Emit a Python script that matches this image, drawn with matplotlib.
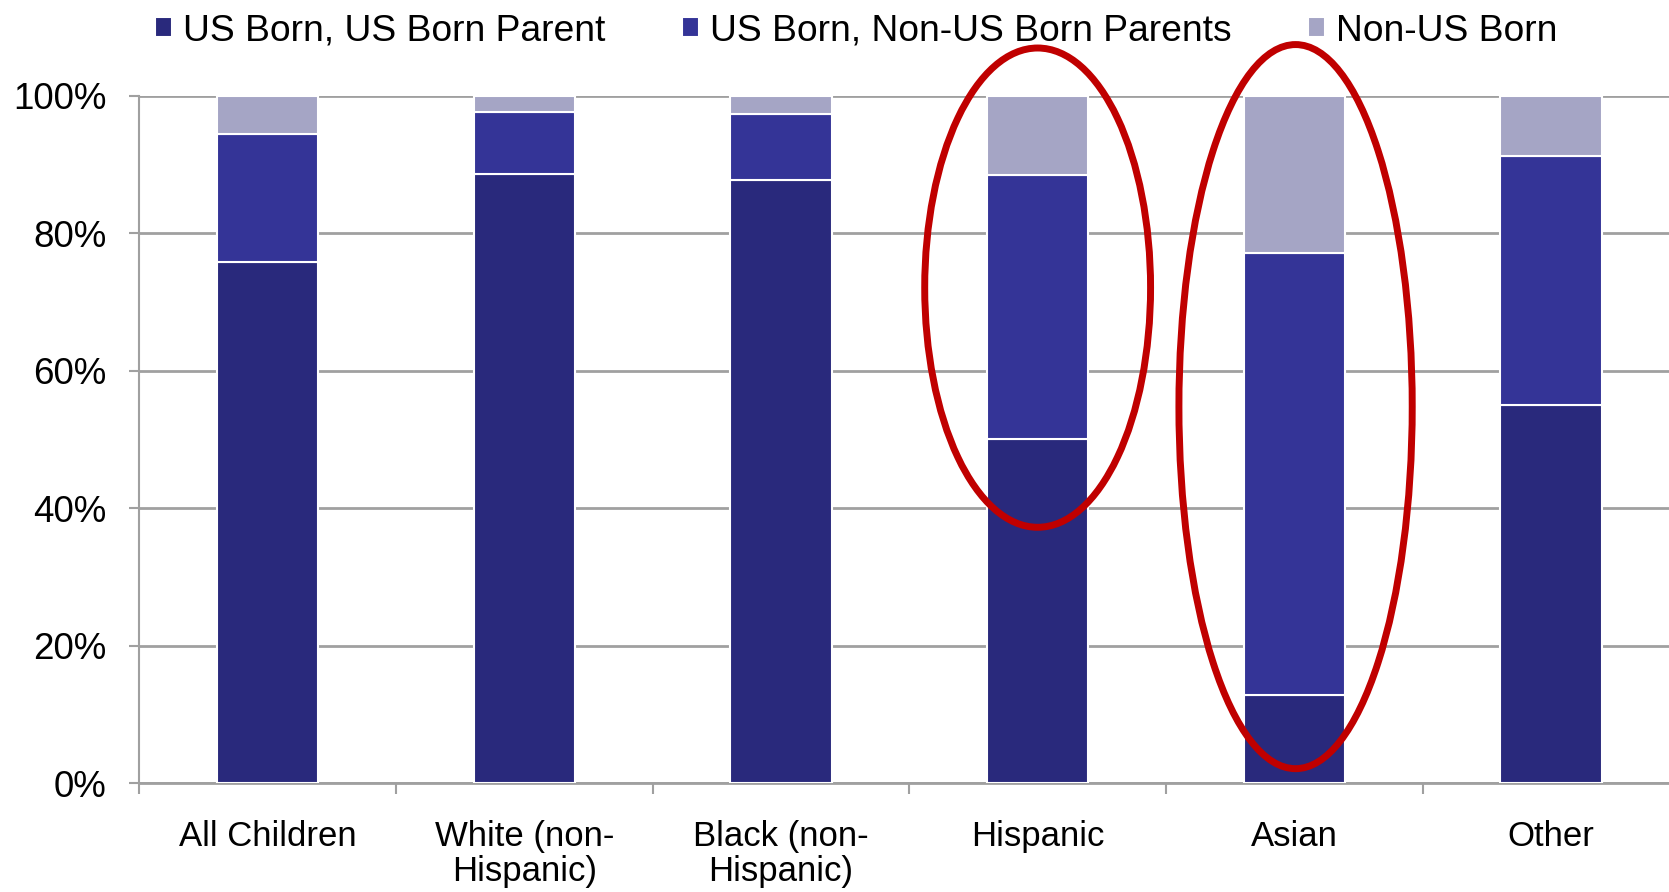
import numpy as np
import matplotlib.pyplot as plt
from matplotlib.patches import Ellipse

plt.rcParams['font.family'] = ['Liberation Sans', 'DejaVu Sans']

# data (percent)
categories = ['All Children', 'White (non-\nHispanic)', 'Black (non-\nHispanic)',
              'Hispanic', 'Asian', 'Other']
series_names = ['US Born, US Born Parent', 'US Born, Non-US Born Parents', 'Non-US Born']
us_born_us_parent = [75.9, 88.7, 87.8, 50.1, 12.8, 55.0]
us_born_non_us_parents = [18.5, 9.0, 9.6, 38.4, 64.4, 36.3]
non_us_born = [5.6, 2.3, 2.6, 11.5, 22.8, 8.7]

colors = ['#29297C', '#343497', '#A5A5C5']

fig = plt.figure(figsize=(16.69, 8.92), dpi=100)
ax = fig.add_axes([0.0835, 0.1217, 0.9165, 0.7709])

x = np.arange(len(categories))
bottom = np.zeros(len(categories))
handles = []
for vals, c, name in zip([us_born_us_parent, us_born_non_us_parents, non_us_born],
                         colors, series_names):
    b = ax.bar(x, vals, 0.395, bottom=bottom, color=c, edgecolor='white',
               linewidth=1.5, label=name, zorder=3)
    handles.append(b)
    bottom += np.array(vals)

ax.set_yticks(np.arange(0, 101, 20))
ax.set_yticklabels([f'{v}%' for v in range(0, 101, 20)])
ax.set_xticks(x)
ax.set_xticklabels(categories, va='top', linespacing=1.1)
ax.set_xticks(np.arange(-0.5, len(categories), 1.0), minor=True)
# limits after ticks (set_xticks widens the view)
ax.set_xlim(-0.5, len(categories) - 0.54)
ax.set_ylim(0, 100)

ax.yaxis.grid(True, color='#A0A0A0', linewidth=2, zorder=0)
ax.tick_params(axis='y', labelsize=26.5, length=7.5, width=1.5, color='#A0A0A0', pad=16)
ax.tick_params(axis='x', which='major', labelsize=25, length=0, pad=26)
ax.tick_params(axis='x', which='minor', length=8, width=1.5, color='#A0A0A0')
for s in ['top', 'right']:
    ax.spines[s].set_visible(False)
ax.spines['left'].set_color('#A0A0A0')
ax.spines['left'].set_linewidth(1.5)
ax.spines['bottom'].set_color('#A0A0A0')
ax.spines['bottom'].set_linewidth(2)

# red ellipses highlighting Hispanic and Asian
ax.add_patch(Ellipse((3.0, 72.1), 0.88, 69.7, fill=False, edgecolor='#C00000',
                     linewidth=5, clip_on=False, zorder=5))
ax.add_patch(Ellipse((4.005, 54.8), 0.909, 105.3, fill=False, edgecolor='#C00000',
                     linewidth=5, clip_on=False, zorder=5))

fig.legend(handles=handles, labels=series_names, loc='center', ncol=3,
           bbox_to_anchor=(0.513, 0.965), frameon=False, fontsize=26.8,
           handlelength=0.45, handleheight=0.45, handletextpad=0.3,
           columnspacing=2.05)

fig.savefig('out.png', dpi=100)
